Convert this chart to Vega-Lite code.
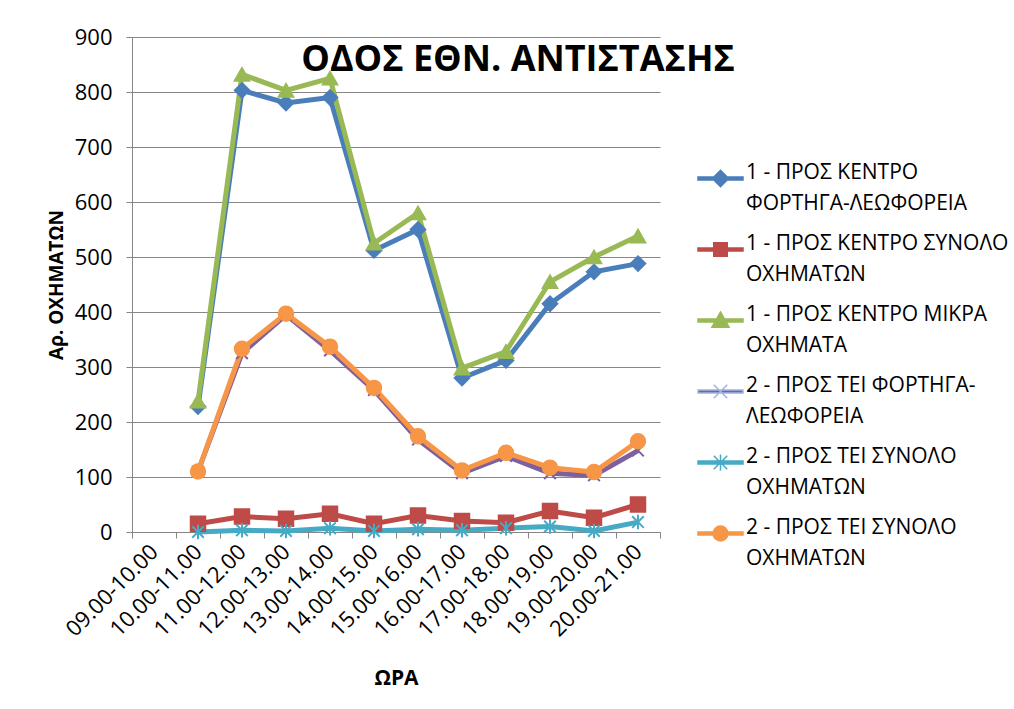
{
  "$schema": "https://vega.github.io/schema/vega-lite/v6.json",
  "autosize": {"type": "none"},
  "padding": {"left": 132, "top": 37, "right": 354, "bottom": 177},
  "width": 528,
  "height": 495,
  "background": "white",
  "title": {"text": "ΟΔΟΣ ΕΘΝ. ΑΝΤΙΣΤΑΣΗΣ", "font": "Open Sans", "fontSize": 36, "fontWeight": "bold", "color": "black", "anchor": "middle", "frame": "group", "baseline": "alphabetic", "offset": 0, "dx": 122, "dy": 81},
  "data": {"values": [
    {"hour": "10.00-11.00", "series": "1 - ΠΡΟΣ ΚΕΝΤΡΟ\nΦΟΡΤΗΓΑ-ΛΕΩΦΟΡΕΙΑ", "value": 228},
    {"hour": "11.00-12.00", "series": "1 - ΠΡΟΣ ΚΕΝΤΡΟ\nΦΟΡΤΗΓΑ-ΛΕΩΦΟΡΕΙΑ", "value": 803},
    {"hour": "12.00-13.00", "series": "1 - ΠΡΟΣ ΚΕΝΤΡΟ\nΦΟΡΤΗΓΑ-ΛΕΩΦΟΡΕΙΑ", "value": 780},
    {"hour": "13.00-14.00", "series": "1 - ΠΡΟΣ ΚΕΝΤΡΟ\nΦΟΡΤΗΓΑ-ΛΕΩΦΟΡΕΙΑ", "value": 790},
    {"hour": "14.00-15.00", "series": "1 - ΠΡΟΣ ΚΕΝΤΡΟ\nΦΟΡΤΗΓΑ-ΛΕΩΦΟΡΕΙΑ", "value": 512},
    {"hour": "15.00-16.00", "series": "1 - ΠΡΟΣ ΚΕΝΤΡΟ\nΦΟΡΤΗΓΑ-ΛΕΩΦΟΡΕΙΑ", "value": 550},
    {"hour": "16.00-17.00", "series": "1 - ΠΡΟΣ ΚΕΝΤΡΟ\nΦΟΡΤΗΓΑ-ΛΕΩΦΟΡΕΙΑ", "value": 280},
    {"hour": "17.00-18.00", "series": "1 - ΠΡΟΣ ΚΕΝΤΡΟ\nΦΟΡΤΗΓΑ-ΛΕΩΦΟΡΕΙΑ", "value": 312},
    {"hour": "18.00-19.00", "series": "1 - ΠΡΟΣ ΚΕΝΤΡΟ\nΦΟΡΤΗΓΑ-ΛΕΩΦΟΡΕΙΑ", "value": 415},
    {"hour": "19.00-20.00", "series": "1 - ΠΡΟΣ ΚΕΝΤΡΟ\nΦΟΡΤΗΓΑ-ΛΕΩΦΟΡΕΙΑ", "value": 473},
    {"hour": "20.00-21.00", "series": "1 - ΠΡΟΣ ΚΕΝΤΡΟ\nΦΟΡΤΗΓΑ-ΛΕΩΦΟΡΕΙΑ", "value": 488},
    {"hour": "10.00-11.00", "series": "1 - ΠΡΟΣ ΚΕΝΤΡΟ ΣΥΝΟΛΟ\nΟΧΗΜΑΤΩΝ", "value": 15},
    {"hour": "11.00-12.00", "series": "1 - ΠΡΟΣ ΚΕΝΤΡΟ ΣΥΝΟΛΟ\nΟΧΗΜΑΤΩΝ", "value": 28},
    {"hour": "12.00-13.00", "series": "1 - ΠΡΟΣ ΚΕΝΤΡΟ ΣΥΝΟΛΟ\nΟΧΗΜΑΤΩΝ", "value": 24},
    {"hour": "13.00-14.00", "series": "1 - ΠΡΟΣ ΚΕΝΤΡΟ ΣΥΝΟΛΟ\nΟΧΗΜΑΤΩΝ", "value": 33},
    {"hour": "14.00-15.00", "series": "1 - ΠΡΟΣ ΚΕΝΤΡΟ ΣΥΝΟΛΟ\nΟΧΗΜΑΤΩΝ", "value": 15},
    {"hour": "15.00-16.00", "series": "1 - ΠΡΟΣ ΚΕΝΤΡΟ ΣΥΝΟΛΟ\nΟΧΗΜΑΤΩΝ", "value": 30},
    {"hour": "16.00-17.00", "series": "1 - ΠΡΟΣ ΚΕΝΤΡΟ ΣΥΝΟΛΟ\nΟΧΗΜΑΤΩΝ", "value": 20},
    {"hour": "17.00-18.00", "series": "1 - ΠΡΟΣ ΚΕΝΤΡΟ ΣΥΝΟΛΟ\nΟΧΗΜΑΤΩΝ", "value": 17},
    {"hour": "18.00-19.00", "series": "1 - ΠΡΟΣ ΚΕΝΤΡΟ ΣΥΝΟΛΟ\nΟΧΗΜΑΤΩΝ", "value": 38},
    {"hour": "19.00-20.00", "series": "1 - ΠΡΟΣ ΚΕΝΤΡΟ ΣΥΝΟΛΟ\nΟΧΗΜΑΤΩΝ", "value": 26},
    {"hour": "20.00-21.00", "series": "1 - ΠΡΟΣ ΚΕΝΤΡΟ ΣΥΝΟΛΟ\nΟΧΗΜΑΤΩΝ", "value": 50},
    {"hour": "10.00-11.00", "series": "1 - ΠΡΟΣ ΚΕΝΤΡΟ ΜΙΚΡΑ\nΟΧΗΜΑΤΑ", "value": 238},
    {"hour": "11.00-12.00", "series": "1 - ΠΡΟΣ ΚΕΝΤΡΟ ΜΙΚΡΑ\nΟΧΗΜΑΤΑ", "value": 832},
    {"hour": "12.00-13.00", "series": "1 - ΠΡΟΣ ΚΕΝΤΡΟ ΜΙΚΡΑ\nΟΧΗΜΑΤΑ", "value": 803},
    {"hour": "13.00-14.00", "series": "1 - ΠΡΟΣ ΚΕΝΤΡΟ ΜΙΚΡΑ\nΟΧΗΜΑΤΑ", "value": 825},
    {"hour": "14.00-15.00", "series": "1 - ΠΡΟΣ ΚΕΝΤΡΟ ΜΙΚΡΑ\nΟΧΗΜΑΤΑ", "value": 525},
    {"hour": "15.00-16.00", "series": "1 - ΠΡΟΣ ΚΕΝΤΡΟ ΜΙΚΡΑ\nΟΧΗΜΑΤΑ", "value": 580},
    {"hour": "16.00-17.00", "series": "1 - ΠΡΟΣ ΚΕΝΤΡΟ ΜΙΚΡΑ\nΟΧΗΜΑΤΑ", "value": 298},
    {"hour": "17.00-18.00", "series": "1 - ΠΡΟΣ ΚΕΝΤΡΟ ΜΙΚΡΑ\nΟΧΗΜΑΤΑ", "value": 328},
    {"hour": "18.00-19.00", "series": "1 - ΠΡΟΣ ΚΕΝΤΡΟ ΜΙΚΡΑ\nΟΧΗΜΑΤΑ", "value": 455},
    {"hour": "19.00-20.00", "series": "1 - ΠΡΟΣ ΚΕΝΤΡΟ ΜΙΚΡΑ\nΟΧΗΜΑΤΑ", "value": 500},
    {"hour": "20.00-21.00", "series": "1 - ΠΡΟΣ ΚΕΝΤΡΟ ΜΙΚΡΑ\nΟΧΗΜΑΤΑ", "value": 538},
    {"hour": "10.00-11.00", "series": "2 - ΠΡΟΣ ΤΕΙ ΦΟΡΤΗΓΑ-\nΛΕΩΦΟΡΕΙΑ", "value": 110},
    {"hour": "11.00-12.00", "series": "2 - ΠΡΟΣ ΤΕΙ ΦΟΡΤΗΓΑ-\nΛΕΩΦΟΡΕΙΑ", "value": 325},
    {"hour": "12.00-13.00", "series": "2 - ΠΡΟΣ ΤΕΙ ΦΟΡΤΗΓΑ-\nΛΕΩΦΟΡΕΙΑ", "value": 395},
    {"hour": "13.00-14.00", "series": "2 - ΠΡΟΣ ΤΕΙ ΦΟΡΤΗΓΑ-\nΛΕΩΦΟΡΕΙΑ", "value": 330},
    {"hour": "14.00-15.00", "series": "2 - ΠΡΟΣ ΤΕΙ ΦΟΡΤΗΓΑ-\nΛΕΩΦΟΡΕΙΑ", "value": 258},
    {"hour": "15.00-16.00", "series": "2 - ΠΡΟΣ ΤΕΙ ΦΟΡΤΗΓΑ-\nΛΕΩΦΟΡΕΙΑ", "value": 168},
    {"hour": "16.00-17.00", "series": "2 - ΠΡΟΣ ΤΕΙ ΦΟΡΤΗΓΑ-\nΛΕΩΦΟΡΕΙΑ", "value": 107},
    {"hour": "17.00-18.00", "series": "2 - ΠΡΟΣ ΤΕΙ ΦΟΡΤΗΓΑ-\nΛΕΩΦΟΡΕΙΑ", "value": 138},
    {"hour": "18.00-19.00", "series": "2 - ΠΡΟΣ ΤΕΙ ΦΟΡΤΗΓΑ-\nΛΕΩΦΟΡΕΙΑ", "value": 107},
    {"hour": "19.00-20.00", "series": "2 - ΠΡΟΣ ΤΕΙ ΦΟΡΤΗΓΑ-\nΛΕΩΦΟΡΕΙΑ", "value": 103},
    {"hour": "20.00-21.00", "series": "2 - ΠΡΟΣ ΤΕΙ ΦΟΡΤΗΓΑ-\nΛΕΩΦΟΡΕΙΑ", "value": 148},
    {"hour": "10.00-11.00", "series": "2 - ΠΡΟΣ ΤΕΙ ΣΥΝΟΛΟ\nΟΧΗΜΑΤΩΝ", "value": 0},
    {"hour": "11.00-12.00", "series": "2 - ΠΡΟΣ ΤΕΙ ΣΥΝΟΛΟ\nΟΧΗΜΑΤΩΝ", "value": 3},
    {"hour": "12.00-13.00", "series": "2 - ΠΡΟΣ ΤΕΙ ΣΥΝΟΛΟ\nΟΧΗΜΑΤΩΝ", "value": 2},
    {"hour": "13.00-14.00", "series": "2 - ΠΡΟΣ ΤΕΙ ΣΥΝΟΛΟ\nΟΧΗΜΑΤΩΝ", "value": 7},
    {"hour": "14.00-15.00", "series": "2 - ΠΡΟΣ ΤΕΙ ΣΥΝΟΛΟ\nΟΧΗΜΑΤΩΝ", "value": 2},
    {"hour": "15.00-16.00", "series": "2 - ΠΡΟΣ ΤΕΙ ΣΥΝΟΛΟ\nΟΧΗΜΑΤΩΝ", "value": 5},
    {"hour": "16.00-17.00", "series": "2 - ΠΡΟΣ ΤΕΙ ΣΥΝΟΛΟ\nΟΧΗΜΑΤΩΝ", "value": 3},
    {"hour": "17.00-18.00", "series": "2 - ΠΡΟΣ ΤΕΙ ΣΥΝΟΛΟ\nΟΧΗΜΑΤΩΝ", "value": 7},
    {"hour": "18.00-19.00", "series": "2 - ΠΡΟΣ ΤΕΙ ΣΥΝΟΛΟ\nΟΧΗΜΑΤΩΝ", "value": 10},
    {"hour": "19.00-20.00", "series": "2 - ΠΡΟΣ ΤΕΙ ΣΥΝΟΛΟ\nΟΧΗΜΑΤΩΝ", "value": 2},
    {"hour": "20.00-21.00", "series": "2 - ΠΡΟΣ ΤΕΙ ΣΥΝΟΛΟ\nΟΧΗΜΑΤΩΝ", "value": 18},
    {"hour": "10.00-11.00", "series": "2 - ΠΡΟΣ ΤΕΙ ΣΥΝΟΛΟ\nΟΧΗΜΑΤΩΝ ", "value": 110},
    {"hour": "11.00-12.00", "series": "2 - ΠΡΟΣ ΤΕΙ ΣΥΝΟΛΟ\nΟΧΗΜΑΤΩΝ ", "value": 333},
    {"hour": "12.00-13.00", "series": "2 - ΠΡΟΣ ΤΕΙ ΣΥΝΟΛΟ\nΟΧΗΜΑΤΩΝ ", "value": 397},
    {"hour": "13.00-14.00", "series": "2 - ΠΡΟΣ ΤΕΙ ΣΥΝΟΛΟ\nΟΧΗΜΑΤΩΝ ", "value": 337},
    {"hour": "14.00-15.00", "series": "2 - ΠΡΟΣ ΤΕΙ ΣΥΝΟΛΟ\nΟΧΗΜΑΤΩΝ ", "value": 262},
    {"hour": "15.00-16.00", "series": "2 - ΠΡΟΣ ΤΕΙ ΣΥΝΟΛΟ\nΟΧΗΜΑΤΩΝ ", "value": 174},
    {"hour": "16.00-17.00", "series": "2 - ΠΡΟΣ ΤΕΙ ΣΥΝΟΛΟ\nΟΧΗΜΑΤΩΝ ", "value": 112},
    {"hour": "17.00-18.00", "series": "2 - ΠΡΟΣ ΤΕΙ ΣΥΝΟΛΟ\nΟΧΗΜΑΤΩΝ ", "value": 144},
    {"hour": "18.00-19.00", "series": "2 - ΠΡΟΣ ΤΕΙ ΣΥΝΟΛΟ\nΟΧΗΜΑΤΩΝ ", "value": 117},
    {"hour": "19.00-20.00", "series": "2 - ΠΡΟΣ ΤΕΙ ΣΥΝΟΛΟ\nΟΧΗΜΑΤΩΝ ", "value": 109},
    {"hour": "20.00-21.00", "series": "2 - ΠΡΟΣ ΤΕΙ ΣΥΝΟΛΟ\nΟΧΗΜΑΤΩΝ ", "value": 165}
  ]},
  "encoding": {
    "x": {
      "field": "hour", "type": "nominal", "sort": null,
      "scale": {"type": "band", "domain": ["09.00-10.00", "10.00-11.00", "11.00-12.00", "12.00-13.00", "13.00-14.00", "14.00-15.00", "15.00-16.00", "16.00-17.00", "17.00-18.00", "18.00-19.00", "19.00-20.00", "20.00-21.00"], "paddingInner": 0, "paddingOuter": 0},
      "axis": {"title": "ΩΡΑ", "titleFont": "Open Sans", "titleFontSize": 21, "titleFontWeight": "bold", "titleColor": "black", "titlePadding": 27, "labelAngle": -45, "labelAlign": "right", "labelBaseline": "middle", "labelFont": "Open Sans", "labelFontSize": 22, "labelColor": "black", "labelPadding": 10, "labelOverlap": false, "tickBand": "extent", "tickSize": 6, "tickColor": "#868686", "domainColor": "#868686", "grid": false}
    },
    "y": {
      "field": "value", "type": "quantitative",
      "scale": {"domain": [0, 900], "nice": false},
      "axis": {"title": "Αρ. ΟΧΗΜΑΤΩΝ", "titleFont": "Open Sans", "titleFontSize": 19, "titleFontWeight": "bold", "titleColor": "black", "titlePadding": 8, "values": [0, 100, 200, 300, 400, 500, 600, 700, 800, 900], "labelFont": "Open Sans", "labelFontSize": 22, "labelColor": "black", "labelPadding": 14, "tickSize": 6, "tickColor": "#868686", "domainColor": "#868686", "grid": true, "gridColor": "#868686", "gridWidth": 1}
    }
  },
  "layer": [
    {
      "mark": {"type": "line", "strokeWidth": 5},
      "encoding": {
        "stroke": {"field": "series", "type": "nominal", "legend": null,
          "scale": {"domain": ["1 - ΠΡΟΣ ΚΕΝΤΡΟ\nΦΟΡΤΗΓΑ-ΛΕΩΦΟΡΕΙΑ", "1 - ΠΡΟΣ ΚΕΝΤΡΟ ΣΥΝΟΛΟ\nΟΧΗΜΑΤΩΝ", "1 - ΠΡΟΣ ΚΕΝΤΡΟ ΜΙΚΡΑ\nΟΧΗΜΑΤΑ", "2 - ΠΡΟΣ ΤΕΙ ΦΟΡΤΗΓΑ-\nΛΕΩΦΟΡΕΙΑ", "2 - ΠΡΟΣ ΤΕΙ ΣΥΝΟΛΟ\nΟΧΗΜΑΤΩΝ", "2 - ΠΡΟΣ ΤΕΙ ΣΥΝΟΛΟ\nΟΧΗΜΑΤΩΝ "], "range": ["#4A7EBB", "#BE4B48", "#98B954", "#7D60A0", "#46AAC5", "#F79646"]}}
      }
    },
    {
      "mark": {"type": "point", "filled": false, "strokeWidth": 2, "opacity": 1, "size": 210},
      "encoding": {
        "color": {"field": "series", "type": "nominal", "legend": null,
          "scale": {"domain": ["1 - ΠΡΟΣ ΚΕΝΤΡΟ\nΦΟΡΤΗΓΑ-ΛΕΩΦΟΡΕΙΑ", "1 - ΠΡΟΣ ΚΕΝΤΡΟ ΣΥΝΟΛΟ\nΟΧΗΜΑΤΩΝ", "1 - ΠΡΟΣ ΚΕΝΤΡΟ ΜΙΚΡΑ\nΟΧΗΜΑΤΑ", "2 - ΠΡΟΣ ΤΕΙ ΦΟΡΤΗΓΑ-\nΛΕΩΦΟΡΕΙΑ", "2 - ΠΡΟΣ ΤΕΙ ΣΥΝΟΛΟ\nΟΧΗΜΑΤΩΝ", "2 - ΠΡΟΣ ΤΕΙ ΣΥΝΟΛΟ\nΟΧΗΜΑΤΩΝ "], "range": ["#4A7EBB", "#BE4B48", "#98B954", "#7D60A0", "#46AAC5", "#F79646"]}},
        "fill": {"field": "series", "type": "nominal", "legend": null,
          "scale": {"domain": ["1 - ΠΡΟΣ ΚΕΝΤΡΟ\nΦΟΡΤΗΓΑ-ΛΕΩΦΟΡΕΙΑ", "1 - ΠΡΟΣ ΚΕΝΤΡΟ ΣΥΝΟΛΟ\nΟΧΗΜΑΤΩΝ", "1 - ΠΡΟΣ ΚΕΝΤΡΟ ΜΙΚΡΑ\nΟΧΗΜΑΤΑ", "2 - ΠΡΟΣ ΤΕΙ ΦΟΡΤΗΓΑ-\nΛΕΩΦΟΡΕΙΑ", "2 - ΠΡΟΣ ΤΕΙ ΣΥΝΟΛΟ\nΟΧΗΜΑΤΩΝ", "2 - ΠΡΟΣ ΤΕΙ ΣΥΝΟΛΟ\nΟΧΗΜΑΤΩΝ "], "range": ["#4A7EBB", "#BE4B48", "#98B954", "#7D60A0", "#46AAC5", "#F79646"]}},
        "shape": {"field": "series", "type": "nominal", "legend": null,
          "scale": {"domain": ["1 - ΠΡΟΣ ΚΕΝΤΡΟ\nΦΟΡΤΗΓΑ-ΛΕΩΦΟΡΕΙΑ", "1 - ΠΡΟΣ ΚΕΝΤΡΟ ΣΥΝΟΛΟ\nΟΧΗΜΑΤΩΝ", "1 - ΠΡΟΣ ΚΕΝΤΡΟ ΜΙΚΡΑ\nΟΧΗΜΑΤΑ", "2 - ΠΡΟΣ ΤΕΙ ΦΟΡΤΗΓΑ-\nΛΕΩΦΟΡΕΙΑ", "2 - ΠΡΟΣ ΤΕΙ ΣΥΝΟΛΟ\nΟΧΗΜΑΤΩΝ", "2 - ΠΡΟΣ ΤΕΙ ΣΥΝΟΛΟ\nΟΧΗΜΑΤΩΝ "], "range": ["diamond", "square", "triangle-up", "M-0.8,-0.8L0.8,0.8M-0.8,0.8L0.8,-0.8", "M-0.8,-0.8L0.8,0.8M-0.8,0.8L0.8,-0.8M0,-1L0,1", "circle"]}}
      }
    },
    {
      "transform": [{"filter": "false"}],
      "mark": {"type": "point", "filled": true, "strokeWidth": 1.5, "opacity": 1, "size": 2025},
      "encoding": {
        "color": {"field": "series", "type": "nominal", "title": null,
          "legend": {"orient": "none", "legendX": 565, "legendY": 118, "padding": 0, "symbolSize": 2025, "symbolStrokeWidth": 1.5, "symbolOpacity": 1, "labelOffset": 2, "labelExpr": "split(datum.label, '\\n')"},
          "scale": {"domain": ["1 - ΠΡΟΣ ΚΕΝΤΡΟ\nΦΟΡΤΗΓΑ-ΛΕΩΦΟΡΕΙΑ", "1 - ΠΡΟΣ ΚΕΝΤΡΟ ΣΥΝΟΛΟ\nΟΧΗΜΑΤΩΝ", "1 - ΠΡΟΣ ΚΕΝΤΡΟ ΜΙΚΡΑ\nΟΧΗΜΑΤΑ", "2 - ΠΡΟΣ ΤΕΙ ΦΟΡΤΗΓΑ-\nΛΕΩΦΟΡΕΙΑ", "2 - ΠΡΟΣ ΤΕΙ ΣΥΝΟΛΟ\nΟΧΗΜΑΤΩΝ", "2 - ΠΡΟΣ ΤΕΙ ΣΥΝΟΛΟ\nΟΧΗΜΑΤΩΝ "], "range": ["#4A7EBB", "#BE4B48", "#98B954", "#7D60A0", "#46AAC5", "#F79646"]}},
        "stroke": {"field": "series", "type": "nominal", "title": null,
          "legend": {"orient": "none", "legendX": 565, "legendY": 118, "padding": 0, "symbolSize": 2025, "symbolStrokeWidth": 1.5, "symbolOpacity": 1, "labelOffset": 2, "labelExpr": "split(datum.label, '\\n')"},
          "scale": {"domain": ["1 - ΠΡΟΣ ΚΕΝΤΡΟ\nΦΟΡΤΗΓΑ-ΛΕΩΦΟΡΕΙΑ", "1 - ΠΡΟΣ ΚΕΝΤΡΟ ΣΥΝΟΛΟ\nΟΧΗΜΑΤΩΝ", "1 - ΠΡΟΣ ΚΕΝΤΡΟ ΜΙΚΡΑ\nΟΧΗΜΑΤΑ", "2 - ΠΡΟΣ ΤΕΙ ΦΟΡΤΗΓΑ-\nΛΕΩΦΟΡΕΙΑ", "2 - ΠΡΟΣ ΤΕΙ ΣΥΝΟΛΟ\nΟΧΗΜΑΤΩΝ", "2 - ΠΡΟΣ ΤΕΙ ΣΥΝΟΛΟ\nΟΧΗΜΑΤΩΝ "], "range": ["#4A7EBB", "#BE4B48", "#98B954", "#9FB6E0", "#46AAC5", "#F79646"]}},
        "shape": {"field": "series", "type": "nominal", "title": null,
          "legend": {"orient": "none", "legendX": 565, "legendY": 118, "padding": 0, "symbolSize": 2025, "symbolStrokeWidth": 1.5, "symbolOpacity": 1, "labelOffset": 2, "labelExpr": "split(datum.label, '\\n')"},
          "scale": {"domain": ["1 - ΠΡΟΣ ΚΕΝΤΡΟ\nΦΟΡΤΗΓΑ-ΛΕΩΦΟΡΕΙΑ", "1 - ΠΡΟΣ ΚΕΝΤΡΟ ΣΥΝΟΛΟ\nΟΧΗΜΑΤΩΝ", "1 - ΠΡΟΣ ΚΕΝΤΡΟ ΜΙΚΡΑ\nΟΧΗΜΑΤΑ", "2 - ΠΡΟΣ ΤΕΙ ΦΟΡΤΗΓΑ-\nΛΕΩΦΟΡΕΙΑ", "2 - ΠΡΟΣ ΤΕΙ ΣΥΝΟΛΟ\nΟΧΗΜΑΤΩΝ", "2 - ΠΡΟΣ ΤΕΙ ΣΥΝΟΛΟ\nΟΧΗΜΑΤΩΝ "], "range": [
            "M-1,-0.07H1V0.07H-1Z M0,-0.36L0.36,0L0,0.36L-0.36,0Z",
            "M-1,-0.07H1V0.07H-1Z M-0.3,-0.3H0.3V0.3H-0.3Z",
            "M-1,-0.07H1V0.07H-1Z M0,-0.38L0.38,0.3H-0.38Z",
            "M-1,-0.07H1V0.07H-1Z M-0.3,-0.3L0.3,0.3M-0.3,0.3L0.3,-0.3",
            "M-1,-0.07H1V0.07H-1Z M-0.3,-0.3L0.3,0.3M-0.3,0.3L0.3,-0.3M0,-0.36V0.36",
            "M-1,-0.07H1V0.07H-1Z M0.33,0A0.33,0.33 0 1 1 -0.33,0A0.33,0.33 0 1 1 0.33,0Z"
          ]}}
      }
    }
  ],
  "resolve": {"scale": {"color": "independent", "fill": "independent", "stroke": "independent", "shape": "independent"}},
  "config": {
    "view": {"stroke": null},
    "style": {"guide-label": {"lineHeight": 31}},
    "legend": {"labelFont": "Open Sans", "labelFontSize": 21, "labelColor": "black", "labelLimit": 400, "labelBaseline": "alphabetic", "rowPadding": 12}
  }
}
